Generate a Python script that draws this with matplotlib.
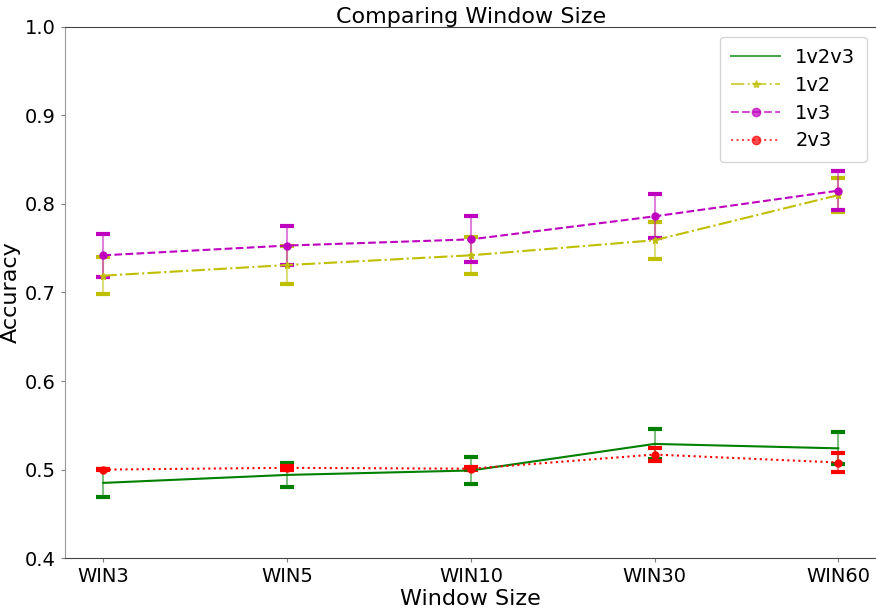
import matplotlib
matplotlib.use("Agg")
import matplotlib.pyplot as plt
from matplotlib.lines import Line2D
import numpy as np

windows = ['WIN3', 'WIN5', 'WIN10', 'WIN30', 'WIN60']

acc_123 = [0.485, 0.494, 0.499, 0.529, 0.524]
err_123 = [0.016, 0.014, 0.015, 0.017, 0.018]

acc_12 = [0.719, 0.731, 0.742, 0.759, 0.810]
err_12 = [0.021, 0.021, 0.021, 0.021, 0.019]

acc_13 = [0.742, 0.753, 0.760, 0.786, 0.815]
err_13 = [0.024, 0.022, 0.026, 0.025, 0.022]

acc_23 = [0.500, 0.502, 0.501, 0.517, 0.508]
err_23 = [0.001, 0.002, 0.002, 0.007, 0.011]

x = np.arange(len(windows))

fig = plt.figure(figsize=(8.76, 6.10), dpi=100)
ax = fig.add_axes([0.074, 0.085, 0.927, 0.871])

series = [
    (acc_123, err_123, 'g', '-', None, '1v2v3'),
    (acc_12, err_12, 'y', '-.', '*', '1v2'),
    (acc_13, err_13, 'm', '--', 'o', '1v3'),
    (acc_23, err_23, 'r', ':', 'o', '2v3'),
]
handles = []
for acc, err, c, ls, mk, lab in series:
    ax.errorbar(x, acc, yerr=err, color=c, ls=ls, marker=mk, markersize=5,
                linewidth=1.5, capsize=5, capthick=3, elinewidth=1.5,
                ecolor=c)
    handles.append(Line2D([], [], color=c, ls=ls, marker=mk, markersize=6,
                          linewidth=1.5, alpha=0.7, label=lab))
# lighter error bars like the original
for line in ax.collections:
    line.set_alpha(0.5)

ax.set_ylim(0.4, 1.0)
ax.set_xlim(-0.21, 4.21)
ax.set_xticks(x)
ax.set_xticklabels(windows)
ax.tick_params(labelsize=14, color='grey', length=3)
ax.set_xlabel('Window Size', fontsize=16, labelpad=2)
ax.set_ylabel('Accuracy', fontsize=16, labelpad=3)
ax.set_title('Comparing Window Size', fontsize=16, pad=2)
ax.spines['left'].set_color('#999999')
for s in ['top', 'bottom', 'right']:
    ax.spines[s].set_color('#444444')
ax.legend(handles=handles, fontsize=14, loc='upper right', handlelength=2.5,
          labelspacing=0.45, borderpad=0.6, handletextpad=0.8)

fig.savefig('out.png', dpi=100)
